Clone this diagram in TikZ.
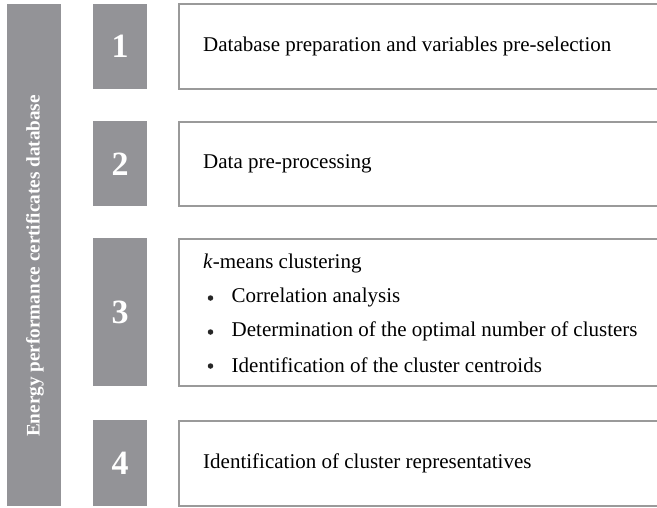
\documentclass[tikz,border=0pt]{standalone}
\usepackage{fontspec}
\setmainfont{Liberation Serif}
\definecolor{bargray}{HTML}{939397}
\definecolor{linegray}{HTML}{9A9A9A}
\begin{document}
\begin{tikzpicture}[x=1pt,y=-1pt,
  numbox/.style={fill=bargray,draw=none},
  txtbox/.style={draw=linegray,line width=1.1pt,fill=white},
  numtxt/.style={text=white,font=\fontsize{34}{36}\selectfont\bfseries},
  bodytxt/.style={anchor=west,inner sep=0pt,font=\fontsize{21}{24}\selectfont},
  dot/.style={circle,fill=black!85,inner sep=0pt,minimum size=5.5pt}]
\useasboundingbox (0,0) rectangle (657,507);
\begin{scope}
\clip (0,0) rectangle (657,507);
% left bar
\fill[bargray] (7,4) rectangle (61,506);
\node[rotate=90,text=white,font=\fontsize{19.2}{21}\selectfont\bfseries] (db) at (35,266) {Energy performance certificates database};
% number boxes
\fill[numbox] (93,3.5) rectangle (147,89);
\fill[numbox] (93,121) rectangle (147,206);
\fill[numbox] (93,238) rectangle (147,386);
\fill[numbox] (93,420) rectangle (147,506);
\node[numtxt] (n1) at (120,46) {1};
\node[numtxt] (n2) at (120,164) {2};
\node[numtxt] (n3) at (120,312) {3};
\node[numtxt] (n4) at (120,463) {4};
% text boxes
\draw[txtbox] (179,4) rectangle (680,89);
\draw[txtbox] (179,122) rectangle (680,206);
\draw[txtbox] (179,239) rectangle (680,386);
\draw[txtbox] (179,421) rectangle (680,506);
\node[bodytxt] (t1) at (203,46) {Database preparation and variables pre-selection};
\node[bodytxt] (t2) at (203,164) {Data pre-processing};
\node[bodytxt] (t3) at (203,263) {\textit{k}-means clustering};
\node[dot] (b1) at (210.5,298) {};
\node[dot] (b2) at (210.5,332) {};
\node[dot] (b3) at (210.5,366) {};
\node[bodytxt] (t31) at (231.5,297) {Correlation analysis};
\node[bodytxt] (t32) at (231.5,331) {Determination of the optimal number of clusters};
\node[bodytxt] (t33) at (231.5,365) {Identification of the cluster centroids};
\node[bodytxt] (t4) at (203,463) {Identification of cluster representatives};
\end{scope}
\end{tikzpicture}
\end{document}
